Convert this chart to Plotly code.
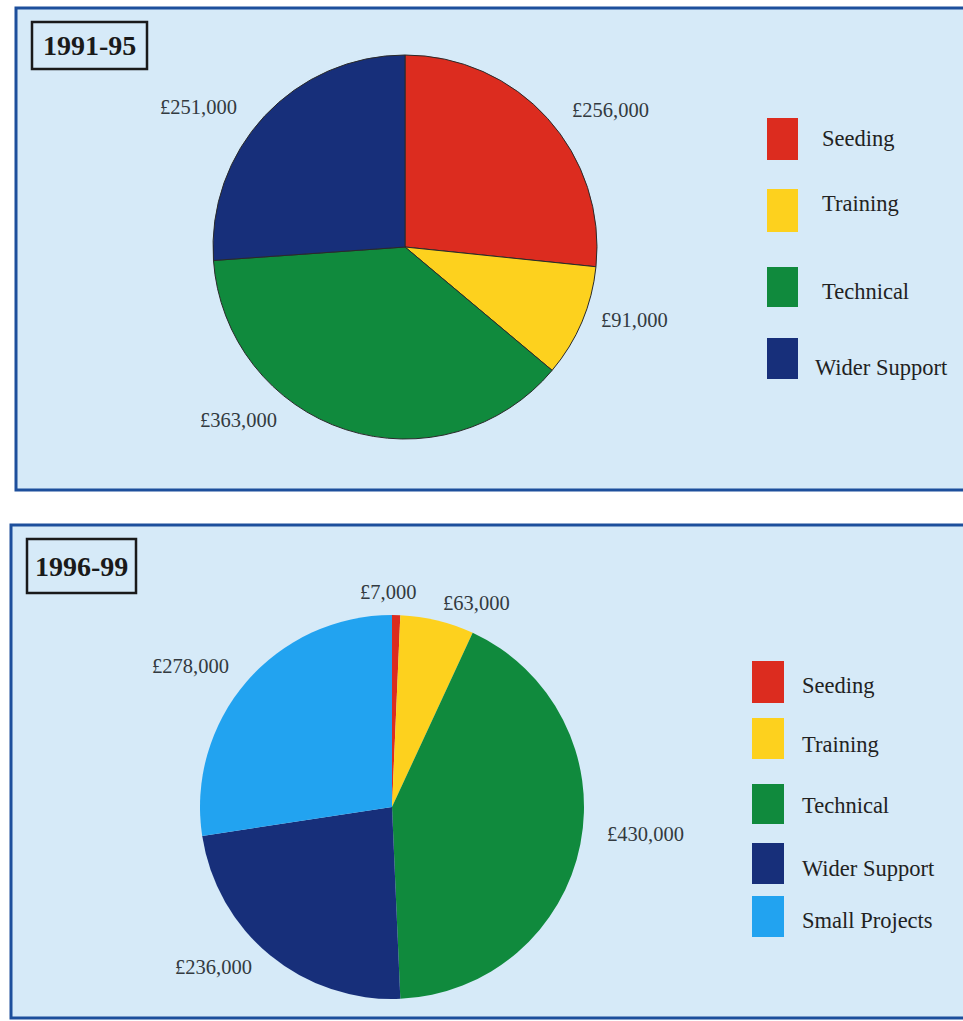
import plotly.graph_objects as go

W, H = 963, 1021

# ---- data ----
cats_1 = ["Seeding", "Training", "Technical", "Wider Support"]
vals_1 = [256000, 91000, 363000, 251000]
cats_2 = ["Seeding", "Training", "Technical", "Wider Support", "Small Projects"]
vals_2 = [7000, 63000, 430000, 236000, 278000]
titles = ["1991-95", "1996-99"]

# ---- styles ----
colors = {
    "Seeding": "#dc2c1f",
    "Training": "#fdd11e",
    "Technical": "#108a3d",
    "Wider Support": "#172f7a",
    "Small Projects": "#22a3f0",
}
panel_bg = "#d6eaf8"
panel_line = "#1d4f9c"
font_family = "Liberation Serif, Times New Roman, serif"
txt_color = "#333a40"


def px(x):
    return x / W


def py(y):
    return 1 - y / H


# pie layout (pixel boxes: center, radius)
pie1 = dict(cx=405, cy=247, r=192)
pie2 = dict(cx=392, cy=807, r=192)

# label positions (pixel centers) for value labels
lab_pos_1 = [(610, 110), (634, 320), (238, 420), (198, 107)]
lab_pos_2 = [(388, 592), (476, 603), (645, 834), (213, 967), (190, 666)]

# legend positions
leg1_sq_y = [(118, 160), (189, 232), (267, 307), (338, 379)]
leg1_txt_y = [138, 204, 291, 367]
leg1_sq_x = (767, 798)
leg1_txt_x = [820, 820, 820, 813]

leg2_sq_y = [(661, 703), (718, 759), (784, 824), (843, 884), (896, 937)]
leg2_txt_y = [685, 744, 805, 868, 920]
leg2_sq_x = (752, 784)
leg2_txt_x = [800, 800, 800, 800, 800]

fig = go.Figure()


def add_pie(cats, vals, p, line_w, line_c):
    fig.add_trace(go.Pie(
        labels=cats, values=vals, sort=False, direction="clockwise",
        rotation=0, textinfo="none", showlegend=False,
        marker=dict(colors=[colors[c] for c in cats],
                    line=dict(color=line_c, width=line_w)),
        domain=dict(x=[px(p["cx"] - p["r"]), px(p["cx"] + p["r"])],
                    y=[py(p["cy"] + p["r"]), py(p["cy"] - p["r"])]),
    ))


add_pie(cats_1, vals_1, pie1, 1, "#2a2a2a")
add_pie(cats_2, vals_2, pie2, 0, "#ffffff")

shapes = []
annotations = []

# panels
for (x0, y0, x1, y1) in [(16, 8, 980, 490), (11, 525, 980, 1018)]:
    shapes.append(dict(type="rect", xref="paper", yref="paper", layer="below",
                       x0=px(x0), x1=px(x1), y0=py(y1), y1=py(y0),
                       fillcolor=panel_bg, line=dict(color=panel_line, width=3)))

# title boxes
for title, (x0, y0, x1, y1) in zip(titles, [(32, 22, 147, 69), (27, 539, 136, 593)]):
    shapes.append(dict(type="rect", xref="paper", yref="paper",
                       x0=px(x0), x1=px(x1), y0=py(y1), y1=py(y0),
                       line=dict(color="#1a1a1a", width=2.5)))
    annotations.append(dict(text="<b>%s</b>" % title, xref="paper", yref="paper",
                            x=px((x0 + x1) / 2), y=py((y0 + y1) / 2),
                            xanchor="center", yanchor="middle", showarrow=False,
                            font=dict(family=font_family, size=28, color="#1a1a1a")))

# value labels
for vals, pos in [(vals_1, lab_pos_1), (vals_2, lab_pos_2)]:
    for v, (x, y) in zip(vals, pos):
        annotations.append(dict(text="£{:,}".format(v), xref="paper", yref="paper",
                                x=px(x), y=py(y), xanchor="center", yanchor="middle",
                                showarrow=False,
                                font=dict(family=font_family, size=20.5, color=txt_color)))

# legends
for cats, sqx, sqy, tx, ty in [(cats_1, leg1_sq_x, leg1_sq_y, leg1_txt_x, leg1_txt_y),
                               (cats_2, leg2_sq_x, leg2_sq_y, leg2_txt_x, leg2_txt_y)]:
    for c, (ya, yb), x, y in zip(cats, sqy, tx, ty):
        shapes.append(dict(type="rect", xref="paper", yref="paper",
                           x0=px(sqx[0]), x1=px(sqx[1]), y0=py(yb), y1=py(ya),
                           fillcolor=colors[c], line=dict(width=0)))
        annotations.append(dict(text=c, xref="paper", yref="paper",
                                x=px(x), y=py(y), xanchor="left", yanchor="middle",
                                showarrow=False,
                                font=dict(family=font_family, size=22.5, color="#222")))

fig.update_layout(
    width=W, height=H, margin=dict(l=0, r=0, t=0, b=0),
    paper_bgcolor="white", plot_bgcolor="white",
    shapes=shapes, annotations=annotations, showlegend=False,
)

fig.write_html("out.html")
